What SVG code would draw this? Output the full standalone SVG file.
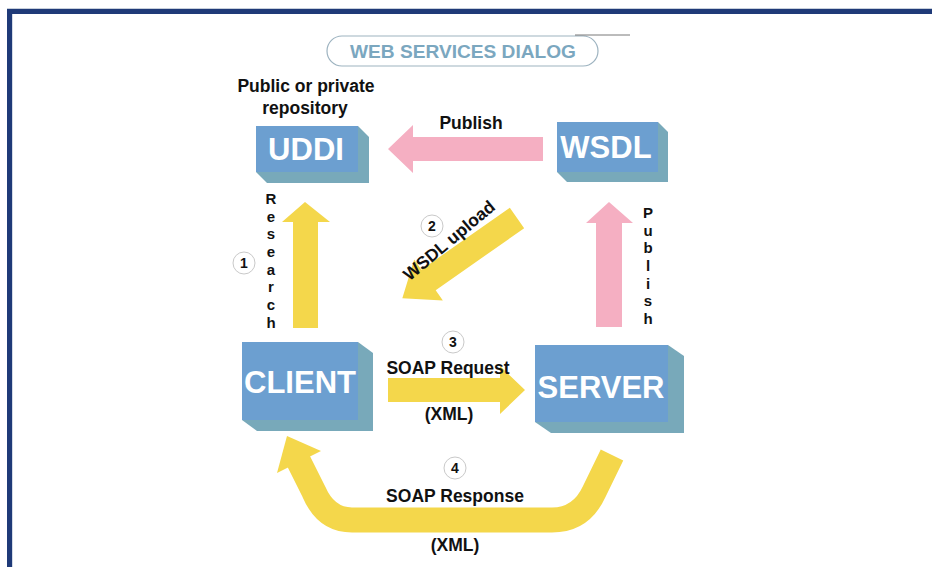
<svg xmlns="http://www.w3.org/2000/svg" width="932" height="567" viewBox="0 0 932 567">
  <defs>
    <style>
      .lbl { font-family: "Liberation Sans", Arial, sans-serif; font-weight: bold; fill: #111; text-anchor: middle; font-size: 17.5px; }
      .box-text { font-family: "Liberation Sans", Arial, sans-serif; font-weight: bold; fill: #ffffff; font-size: 31px; text-anchor: middle; }
      .front { fill: #6c9fd0; }
      .side { fill: #78a9ba; }
      .yellow { fill: #f4d74b; }
      .pink { fill: #f5afc2; }
      .num { fill: #ffffff; stroke: #c9c9c9; stroke-width: 1; }
      .digit { font-family: "Liberation Sans", Arial, sans-serif; font-weight: bold; fill: #111; text-anchor: middle; font-size: 14px; }
      .vert { font-family: "Liberation Sans", Arial, sans-serif; font-weight: bold; fill: #111; font-size: 15px; text-anchor: middle; }
    </style>
  </defs>

  <rect x="0" y="0" width="932" height="567" fill="#ffffff"/>

  <!-- frame -->
  <g id="frame">
    <rect x="7" y="8" width="925" height="1" fill="#c7cfdb"/>
    <rect x="7" y="9" width="925" height="5" fill="#1f3a78"/>
    <rect x="7" y="9" width="5" height="558" fill="#1f3a78"/>
    <rect x="12" y="14" width="1" height="553" fill="#d4dbe6"/>
  </g>

  <!-- title -->
  <g id="title">
    <rect x="327" y="36" width="271" height="30" rx="15" ry="15" fill="#ffffff" stroke="#9db3c0" stroke-width="1.2"/>
    <line x1="575" y1="35" x2="630" y2="35" stroke="#555" stroke-width="0.8"/>
    <text x="463" y="58" font-family="Liberation Sans, Arial, sans-serif" font-weight="bold" font-size="19" fill="#7ba7bf" text-anchor="middle" textLength="226" lengthAdjust="spacingAndGlyphs">WEB SERVICES DIALOG</text>
  </g>

  <!-- connectors -->
  <g id="connectors">
    <!-- Publish: WSDL to UDDI -->
    <polygon class="pink" points="543,137 413,137 413,125 388,149 413,173 413,161 543,161"/>
    <!-- Publish: SERVER to WSDL -->
    <polygon class="pink" points="596,327 596,223 586,223 609,202 633,223 622,223 622,327"/>
    <!-- Research: CLIENT to UDDI -->
    <polygon class="yellow" points="293,328 293,222 282,222 305,202 330,222 318,222 318,328"/>
    <!-- WSDL upload -->
    <g transform="translate(517,218) rotate(145)">
      <polygon class="yellow" points="0,-12.5 108,-12.5 108,-25 140,0 108,25 108,12.5 0,12.5"/>
    </g>
    <!-- SOAP Request -->
    <polygon class="yellow" points="388,378 500,378 500,366 525,390 500,414 500,402 388,402"/>
    <!-- SOAP Response -->
    <path d="M612,455 L594,492 Q581,520 552,520 L352,520 Q326,520 314,492 L298,460" fill="none" stroke="#f4d74b" stroke-width="25"/>
    <polygon class="yellow" points="277,473 321,451 287,436"/>
  </g>

  <!-- labels -->
  <g id="labels">
    <text class="lbl" x="306" y="92">Public or private</text>
    <text class="lbl" x="305" y="114">repository</text>
    <text class="lbl" x="471" y="129">Publish</text>

    <g class="vert">
      <text x="271" y="204">R</text>
      <text x="271" y="222">e</text>
      <text x="271" y="239">s</text>
      <text x="271" y="257">e</text>
      <text x="271" y="275">a</text>
      <text x="271" y="292">r</text>
      <text x="271" y="310">c</text>
      <text x="271" y="328">h</text>
    </g>
    <g class="vert">
      <text x="648" y="218">P</text>
      <text x="648" y="236">u</text>
      <text x="648" y="253">b</text>
      <text x="648" y="271">l</text>
      <text x="648" y="289">i</text>
      <text x="648" y="306">s</text>
      <text x="648" y="324">h</text>
    </g>

    <circle class="num" cx="244" cy="263" r="11"/>
    <text class="digit" x="244" y="268">1</text>

    <circle class="num" cx="432" cy="226" r="11"/>
    <text class="digit" x="432" y="231">2</text>
    <text class="lbl" x="0" y="0" transform="translate(453,245) rotate(-40)">WSDL upload</text>

    <circle class="num" cx="453" cy="342" r="11"/>
    <text class="digit" x="453" y="347">3</text>
    <text class="lbl" x="448" y="374">SOAP Request</text>
    <text class="lbl" x="449" y="420">(XML)</text>

    <circle class="num" cx="455" cy="468" r="11"/>
    <text class="digit" x="455" y="473">4</text>
    <text class="lbl" x="455" y="502">SOAP Response</text>
    <text class="lbl" x="455" y="551">(XML)</text>
  </g>

  <!-- nodes -->
  <g id="uddi">
    <polygon class="side" points="358,126 369,137 369,183 267,183 256,172"/>
    <rect class="front" x="256" y="126" width="102" height="46"/>
    <text class="box-text" x="306" y="160">UDDI</text>
  </g>
  <g id="wsdl">
    <polygon class="side" points="658,122 668,132 668,182 567,182 557,172"/>
    <rect class="front" x="557" y="122" width="101" height="50"/>
    <text class="box-text" x="606" y="158">WSDL</text>
  </g>
  <g id="client">
    <polygon class="side" points="358,342 373,353 373,431 257,431 242,420"/>
    <rect class="front" x="242" y="342" width="116" height="78"/>
    <text class="box-text" x="300" y="393">CLIENT</text>
  </g>
  <g id="server">
    <polygon class="side" points="668,345 684,356 684,433 551,433 535,422"/>
    <rect class="front" x="535" y="345" width="133" height="77"/>
    <text class="box-text" x="601" y="398">SERVER</text>
  </g>
</svg>
